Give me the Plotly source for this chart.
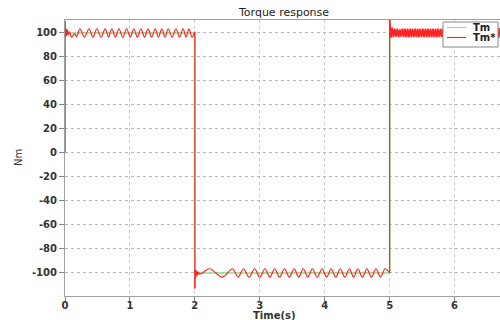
import numpy as np
import plotly.graph_objects as go

# ---------------- data ----------------
# Tm (reference torque, green)
tm_t = [0.0, 0.0, 2.0, 2.0, 5.0, 5.0, 6.75]
tm_v = [0.0, 100.0, 100.0, -100.0, -100.0, 100.0, 100.0]

red_a_t = [0.0, 0.0, 0.005, 0.01, 0.015, 0.02, 0.03, 0.04, 0.05, 0.07, 0.10, 0.15, 0.18,
           0.23, 0.30, 0.37, 0.43, 0.49, 0.555, 0.62, 0.67, 0.72, 0.775, 0.83, 0.89,
           0.95, 1.005, 1.06, 1.115, 1.17, 1.225, 1.28, 1.335, 1.39, 1.44, 1.49, 1.54,
           1.59, 1.65, 1.71, 1.765, 1.82, 1.865, 1.91, 1.955, 2.0]
red_a_v = [0.0, 110.0, 98.0, 104.0, 97.0, 103.0, 98.0, 102.5, 98.5, 101.0, 96.5, 99.5, 97.0,
           103.5, 96.5, 103.5, 96.5, 103.5, 96.5, 103.5, 96.5, 103.5, 96.5, 103.5, 96.5,
           103.5, 96.5, 103.5, 96.5, 103.5, 96.5, 103.5, 96.5, 103.5, 96.5, 103.5, 96.5,
           103.5, 96.5, 103.5, 96.5, 103.5, 96.5, 103.5, 96.5, 101.0]

# segment 2..5 s
red_b_t = [2.0, 2.005, 2.01, 2.015, 2.02, 2.03, 2.04, 2.05, 2.07, 2.10,
           2.23, 2.42, 2.58, 2.665, 2.75, 2.835, 2.92, 3.0, 3.08, 3.155, 3.23, 3.305,
           3.38, 3.455, 3.53, 3.60, 3.67, 3.74, 3.81, 3.885, 3.96, 4.03, 4.10, 4.17,
           4.24, 4.31, 4.38, 4.445, 4.51, 4.58, 4.65, 4.72, 4.79, 4.86, 4.93, 5.0]
red_b_v = [-113.0, -98.0, -104.0, -97.5, -103.0, -98.5, -102.0, -99.0, -101.0, -100.5,
           -96.5, -103.5, -96.5, -103.5, -96.5, -103.5, -96.5, -103.5, -96.5, -103.5, -96.5, -103.5,
           -96.5, -103.5, -96.5, -103.5, -96.5, -103.5, -96.5, -103.5, -96.5, -103.5, -96.5, -103.5,
           -96.5, -103.5, -96.5, -103.5, -96.5, -103.5, -96.5, -103.5, -96.5, -103.5, -96.5, -100.0]

# segment 5..6.75 s (dense ripple, values read as band extremes)
red_c_v = [111.0, 96.0, 104.5, 96.5, 103.5, 97.0, 103.5, 96.5, 103.0, 97.0,
           103.5, 96.5, 103.5, 96.5, 103.5, 96.5, 103.5, 96.5, 103.5, 96.5,
           103.5, 96.5, 103.5, 96.5, 103.5, 96.5, 103.5, 96.5, 103.5, 96.5,
           103.5, 96.5, 103.5, 96.5, 103.5, 96.5, 103.5, 96.5, 103.5, 96.5,
           103.5, 96.5, 103.5, 96.5, 103.5, 96.5, 103.5, 96.5, 103.5, 96.5,
           103.5, 96.5, 103.5, 96.5, 103.5, 96.5, 103.5, 96.5, 103.5, 96.5,
           103.5, 96.5, 103.5, 96.5, 103.5, 96.5, 103.5, 96.5, 104.0, 96.0,
           104.0, 96.0, 104.0, 96.0, 104.0, 96.0, 104.0, 96.0, 104.0, 96.0,
           104.0, 96.0, 104.0, 96.0, 104.0, 96.0, 104.0, 96.0, 104.0, 96.0]
red_c_t = list(np.linspace(5.0, 6.75, len(red_c_v)))

x_ticks = [0, 1, 2, 3, 4, 5, 6]
y_ticks = [-100, -80, -60, -40, -20, 0, 20, 40, 60, 80, 100]

series_names = ["Tm", "Tm*"]
title_text = "Torque response"
x_label = "Time(s)"
y_label = "Nm"

# ---------------- figure ----------------
RED = "#ff2424"
GREEN = "#8ee08e"
FONT = "DejaVu Sans"
L, R, T, B = 65, 0, 20, 24
W, H = 500, 320
pw, ph = W - L - R, H - T - B


def px(x):
    return (x - L) / pw


def py(y):
    return 1 - (y - T) / ph


fig = go.Figure()
fig.add_trace(go.Scatter(x=tm_t, y=tm_v, mode="lines", name=series_names[0],
                         line=dict(color=GREEN, width=1.5), showlegend=False))
# red: vertical steps (linear) + ripples (spline)
fig.add_trace(go.Scatter(x=[red_a_t[0], red_a_t[1]], y=[red_a_v[0], red_a_v[1]], mode="lines",
                         line=dict(color=RED, width=1.2), showlegend=False))
fig.add_trace(go.Scatter(x=[red_a_t[-1], red_b_t[0]], y=[red_a_v[-1], red_b_v[0]], mode="lines",
                         line=dict(color=RED, width=1.2), showlegend=False))
fig.add_trace(go.Scatter(x=[red_b_t[-1], red_c_t[0]], y=[red_b_v[-1], red_c_v[0]], mode="lines",
                         line=dict(color=RED, width=1.2), showlegend=False))
fig.add_trace(go.Scatter(x=red_a_t[1:], y=red_a_v[1:], mode="lines", name=series_names[1],
                         line=dict(color=RED, width=1.2, shape="spline", smoothing=0.9),
                         showlegend=False))
fig.add_trace(go.Scatter(x=red_b_t, y=red_b_v, mode="lines",
                         line=dict(color=RED, width=1.2, shape="spline", smoothing=0.9),
                         showlegend=False))
fig.add_trace(go.Scatter(x=red_c_t, y=red_c_v, mode="lines",
                         line=dict(color=RED, width=1.8), showlegend=False))

fig.update_layout(
    width=W, height=H,
    margin=dict(l=L, r=R, t=T, b=B, autoexpand=False),
    paper_bgcolor="white", plot_bgcolor="white",
    font=dict(family=FONT, size=10, color="#333"),
    showlegend=False,
)
fig.update_xaxes(range=[0, 6.70], tickvals=x_ticks, ticktext=[str(v) for v in x_ticks],
                 showgrid=True, gridcolor="#cccccc", griddash="dot", gridwidth=1,
                 showline=True, linecolor="#a0a0a0", linewidth=1, mirror=True,
                 ticks="outside", ticklen=4, tickcolor="#888", zeroline=False,
                 ticklabelstandoff=-4,
                 tickfont=dict(family=FONT, size=10, color="#333", weight="bold"))
fig.update_yaxes(range=[-119.2, 110.8], tickvals=y_ticks, ticktext=[str(v) for v in y_ticks],
                 showgrid=True, gridcolor="#b8b8b8", griddash="dot", gridwidth=1,
                 showline=True, linecolor="#a0a0a0", linewidth=1, mirror=True,
                 ticks="outside", ticklen=5, tickcolor="#888", zeroline=False,
                 tickfont=dict(family=FONT, size=10, color="#333", weight="bold"))


def label(text, x, y, size=10, weight="normal", angle=0, xanchor="center", color="#333"):
    fig.add_annotation(text=text, x=px(x), y=py(y), xref="paper", yref="paper",
                       xanchor=xanchor, yanchor="middle", textangle=angle, showarrow=False,
                       font=dict(family=FONT, size=size, color=color, weight=weight))


label(title_text, 283, 12, size=11, color="#222")
label(x_label, 274, 315, weight="bold")
label(y_label, 18, 158, angle=-90)

# custom compact legend
fig.add_shape(type="rect", xref="paper", yref="paper", x0=px(443), x1=px(498), y0=py(47), y1=py(22),
              line=dict(color="#888", width=1), fillcolor="white", layer="above")
for i, (name, col) in enumerate(zip(series_names, [GREEN, RED])):
    yy = 27.5 + 10 * i
    fig.add_shape(type="line", xref="paper", yref="paper", x0=px(447), x1=px(466),
                  y0=py(yy), y1=py(yy), line=dict(color=col, width=1.2), layer="above")
    label(name, 471, yy, weight="bold", xanchor="left", color="#222")

fig.write_html("out.html", config={"displayModeBar": False},
               post_script="document.body.style.margin='0px';")
